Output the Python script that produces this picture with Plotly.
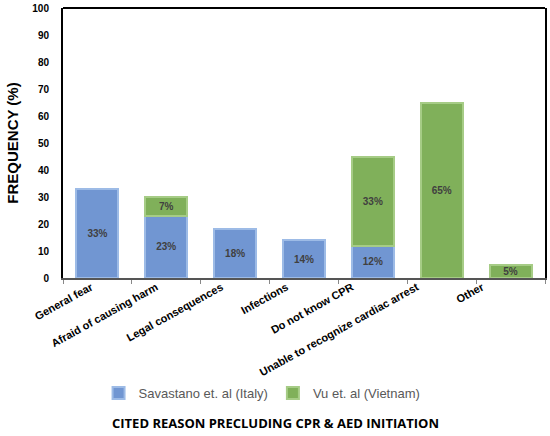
import plotly.graph_objects as go

categories = ["General fear", "Afraid of causing harm", "Legal consequences", "Infections",
              "Do not know CPR", "Unable to recognize cardiac arrest", "Other"]
italy = [33, 23, 18, 14, 12, None, None]
vietnam = [None, 7, None, None, 33, 65, 5]
y_ticks = [0, 10, 20, 30, 40, 50, 60, 70, 80, 90, 100]

FONT = "Arial, Liberation Sans, sans-serif"

def labels(vals):
    return [f"{v}%" if v is not None else "" for v in vals]

fig = go.Figure()
fig.add_trace(go.Bar(
    x=categories, y=italy, name="Savastano et. al (Italy)",
    marker=dict(color="#7196d2", line=dict(color="#9dbbe6", width=2)),
    text=labels(italy), textposition="inside", insidetextanchor="middle",
    textfont=dict(family=FONT, size=10, color="#404040", weight="bold"),
    textangle=0,
))
fig.add_trace(go.Bar(
    x=categories, y=vietnam, name="Vu et. al (Vietnam)",
    marker=dict(color="#80b05a", line=dict(color="#a6cc86", width=2)),
    text=labels(vietnam), textposition="inside", insidetextanchor="middle",
    textfont=dict(family=FONT, size=10, color="#404040", weight="bold"),
    textangle=0,
))
# invisible carrier for the slanted category labels (slightly tighter spacing, as in the original)
fig.add_trace(go.Scatter(
    x=categories, y=[0] * len(categories), xaxis="x2", yaxis="y", mode="markers",
    marker=dict(opacity=0), showlegend=False, hoverinfo="skip",
))

fig.update_layout(
    barmode="stack",
    bargap=0.39,
    width=550, height=436,
    margin=dict(l=63, r=5, t=8, b=158),
    plot_bgcolor="white", paper_bgcolor="white",
    font=dict(family=FONT, color="black"),
    uniformtext=dict(minsize=8, mode="show"),
    legend=dict(orientation="h", x=0.413, xanchor="center", y=-0.426, yanchor="middle",
                font=dict(family=FONT, size=13, color="#595959"), traceorder="normal",
                itemwidth=30),
    xaxis=dict(
        type="category", tickson="boundaries", ticks="outside", showticklabels=False,
        ticklen=4, tickcolor="#888888", showline=True, linecolor="#555555", linewidth=2,
        showgrid=False, mirror=False, automargin=False, range=[-0.5, 6.5],
    ),
    xaxis2=dict(
        type="category", categoryorder="array", categoryarray=categories,
        overlaying="x", anchor="y", side="bottom", range=[-0.43, 6.967],
        tickangle=-29, ticks="", showline=False, showgrid=False, zeroline=False,
        tickfont=dict(family=FONT, size=11, color="black", weight="bold"),
        automargin=False,
    ),
    yaxis=dict(
        range=[0, 100], tickvals=y_ticks, showgrid=False, zeroline=False,
        showline=True, linecolor="black", linewidth=2, mirror=True, ticks="",
        ticklabelstandoff=10, automargin=False,
        tickfont=dict(family=FONT, size=10, color="black", weight="bold"),
        title=dict(text="FREQUENCY (%)", font=dict(family=FONT, size=15, color="black", weight="bold"),
                   standoff=10),
    ),
    shapes=[
        dict(type="line", xref="paper", yref="paper", x0=0, x1=1, y0=1, y1=1,
             line=dict(color="black", width=2)),
    ],
    annotations=[
        dict(text="CITED REASON PRECLUDING CPR & AED INITIATION", xref="paper", yref="paper",
             x=0.44, y=-0.537, xanchor="center", yanchor="middle", showarrow=False,
             font=dict(family="Open Sans, Liberation Sans, sans-serif", size=13, color="black", weight="bold")),
    ],
)

fig.write_html("out.html", post_script="document.body.style.margin='0';",
               config={"displayModeBar": False})
